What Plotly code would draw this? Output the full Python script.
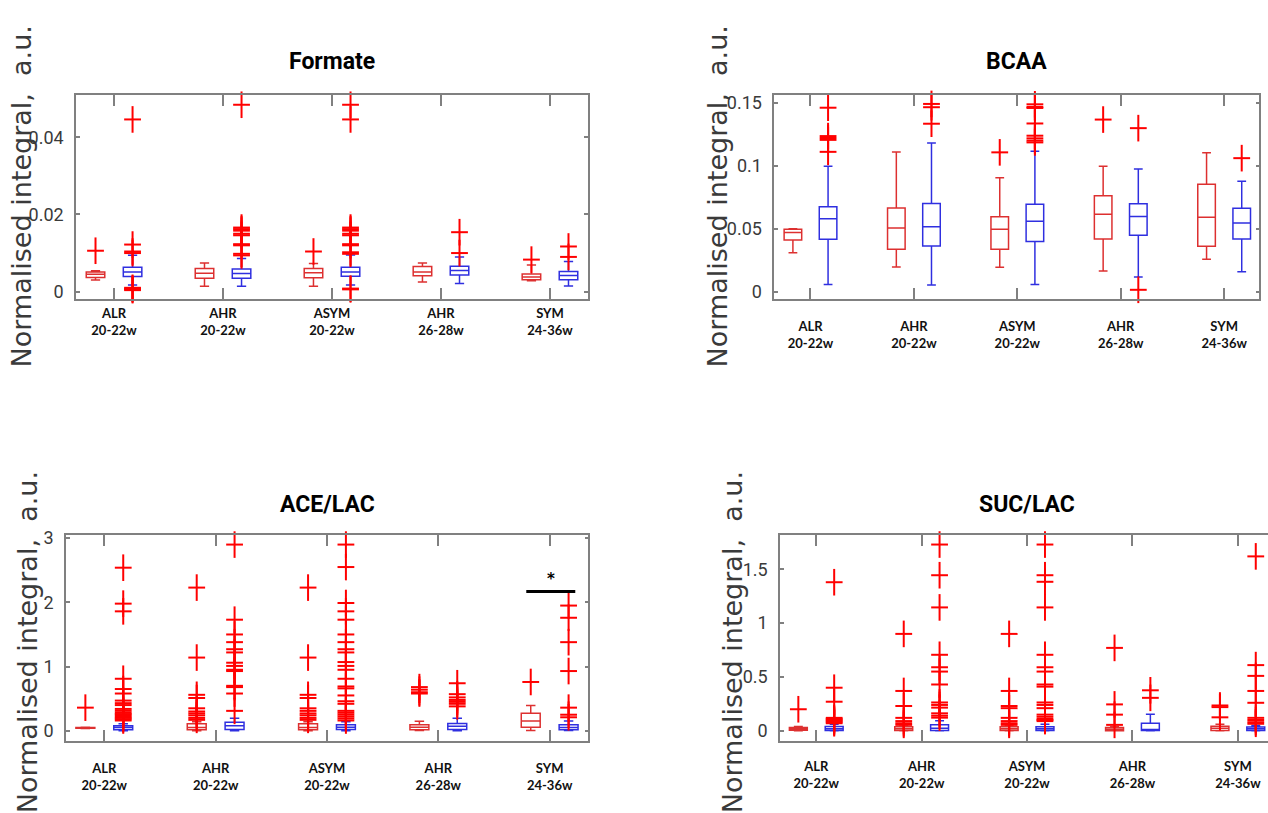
import plotly.graph_objects as go

# ---------------- data ----------------
groups = ["ALR", "AHR", "ASYM", "AHR", "SYM"]
weeks = ["20-22w", "20-22w", "20-22w", "26-28w", "24-36w"]

# each row: (lower whisker, q1, median, q3, upper whisker)
formate_red = [
    (0.0030, 0.0037, 0.0045, 0.0051, 0.0054),
    (0.0014, 0.0035, 0.0048, 0.0060, 0.0074),
    (0.0014, 0.0036, 0.0049, 0.0060, 0.0073),
    (0.0025, 0.0041, 0.0051, 0.0065, 0.0074),
    (0.0028, 0.0031, 0.0038, 0.0046, 0.0069),
]
formate_blue = [
    (0.0017, 0.0039, 0.0051, 0.0063, 0.0094),
    (0.0014, 0.0035, 0.0047, 0.0059, 0.0086),
    (0.0017, 0.0040, 0.0051, 0.0063, 0.0095),
    (0.0021, 0.0043, 0.0055, 0.0066, 0.0090),
    (0.0015, 0.0031, 0.0042, 0.0052, 0.0078),
]
formate_red_out = [[0.0106], [], [0.0104], [], [0.0083]]
formate_blue_out = [
    [0.0446, 0.0122, 0.0104, 0.0100, 0.0010, 0.0008, 0.0006, 0.0004],
    [0.0484, 0.0166, 0.0162, 0.0158, 0.0150, 0.0146, 0.0123, 0.0120, 0.0098, 0.0094],
    [0.0484, 0.0446, 0.0166, 0.0162, 0.0158, 0.0150, 0.0146, 0.0123, 0.0120,
     0.0102, 0.0098, 0.0008, 0.0006],
    [0.0154, 0.0100],
    [0.0117, 0.0090],
]

bcaa_red = [
    (0.0310, 0.0410, 0.0470, 0.0497, 0.0500),
    (0.0196, 0.0337, 0.0507, 0.0664, 0.1108),
    (0.0195, 0.0338, 0.0496, 0.0596, 0.0905),
    (0.0165, 0.0419, 0.0615, 0.0762, 0.0995),
    (0.0259, 0.0361, 0.0592, 0.0853, 0.1102),
]
bcaa_blue = [
    (0.0058, 0.0416, 0.0580, 0.0674, 0.0996),
    (0.0055, 0.0363, 0.0517, 0.0700, 0.1180),
    (0.0058, 0.0400, 0.0560, 0.0694, 0.1115),
    (0.0118, 0.0448, 0.0597, 0.0699, 0.0974),
    (0.0160, 0.0419, 0.0545, 0.0662, 0.0877),
]
bcaa_red_out = [[], [], [0.1106], [0.1366], []]
bcaa_blue_out = [
    [0.1460, 0.1235, 0.1220, 0.1205, 0.1110],
    [0.1490, 0.1464, 0.1333],
    [0.1487, 0.1466, 0.1458, 0.1335, 0.1238, 0.1217, 0.1199, 0.1185],
    [0.1298, 0.0016],
    [0.1060],
]

acelac_red = [
    (0.035, 0.040, 0.045, 0.050, 0.055),
    (0.000, 0.015, 0.050, 0.108, 0.140),
    (0.000, 0.015, 0.050, 0.108, 0.140),
    (0.005, 0.015, 0.056, 0.092, 0.148),
    (0.005, 0.056, 0.154, 0.271, 0.394),
]
acelac_blue = [
    (0.000, 0.015, 0.050, 0.077, 0.110),
    (0.000, 0.020, 0.077, 0.133, 0.195),
    (0.000, 0.020, 0.056, 0.092, 0.140),
    (0.000, 0.020, 0.072, 0.113, 0.195),
    (0.005, 0.015, 0.050, 0.092, 0.154),
]
acelac_red_out = [
    [0.36],
    [2.23, 1.14, 0.56, 0.51, 0.35, 0.30, 0.27, 0.24, 0.20, 0.17],
    [2.23, 1.14, 0.56, 0.51, 0.35, 0.31, 0.27, 0.24, 0.20, 0.17],
    [0.68, 0.64, 0.60, 0.58],
    [0.76],
]
acelac_blue_out = [
    [2.54, 1.98, 1.86, 0.81, 0.65, 0.58, 0.47, 0.43, 0.40, 0.34, 0.31, 0.28,
     0.26, 0.24, 0.22, 0.20, 0.18, 0.16],
    [2.90, 1.73, 1.50, 1.38, 1.27, 1.22, 1.06, 1.01, 0.95, 0.93, 0.70, 0.68,
     0.58, 0.31],
    [2.90, 2.55, 1.99, 1.86, 1.73, 1.50, 1.38, 1.27, 1.22, 1.07, 1.01, 0.95,
     0.81, 0.69, 0.66, 0.55, 0.46, 0.42, 0.31, 0.28, 0.25, 0.22, 0.19, 0.16],
    [0.74, 0.57, 0.52, 0.48, 0.45, 0.42, 0.38],
    [1.95, 1.76, 1.38, 0.93, 0.36, 0.25, 0.21],
]

suclac_red = [
    (0.000, 0.006, 0.018, 0.030, 0.040),
    (0.000, 0.003, 0.018, 0.037, 0.045),
    (0.000, 0.003, 0.018, 0.037, 0.045),
    (0.000, 0.000, 0.015, 0.030, 0.040),
    (0.000, 0.003, 0.024, 0.043, 0.060),
]
suclac_blue = [
    (0.000, 0.003, 0.018, 0.040, 0.060),
    (0.000, 0.003, 0.024, 0.055, 0.092),
    (0.000, 0.003, 0.018, 0.037, 0.060),
    (0.000, 0.002, 0.006, 0.070, 0.153),
    (0.000, 0.003, 0.018, 0.034, 0.050),
]
suclac_red_out = [
    [0.20],
    [0.90, 0.37, 0.23, 0.12, 0.09, 0.07, 0.055],
    [0.90, 0.37, 0.23, 0.21, 0.12, 0.09, 0.07, 0.055],
    [0.77, 0.245, 0.15, 0.055],
    [0.235, 0.22, 0.125],
]
suclac_blue_out = [
    [1.38, 0.40, 0.27, 0.12, 0.11, 0.10, 0.09, 0.08, 0.07],
    [1.73, 1.445, 1.146, 0.706, 0.59, 0.55, 0.43, 0.263, 0.24, 0.215, 0.162,
     0.14, 0.122],
    [1.73, 1.445, 1.384, 1.146, 0.706, 0.59, 0.55, 0.43, 0.41, 0.263, 0.24,
     0.21, 0.15, 0.13, 0.11, 0.10, 0.09],
    [0.376, 0.306],
    [1.62, 0.61, 0.51, 0.37, 0.26, 0.12, 0.10, 0.08, 0.065],
]

# significance bar on ACE/LAC, SYM group (x from, x to, height)
sig_bar = (3.79, 4.23, 2.17)

# ---------------- styling / layout ----------------
W, H = 1268, 813
RED_BOX = "#dd3030"
BLUE_BOX = "#2f2fe0"
OUT_RED = "#ff0000"
AX_GRAY = "#808080"
OFF = 0.17
NARROW = "Roboto, 'Liberation Sans', sans-serif"

panels = [
    dict(title="Formate", red=formate_red, blue=formate_blue,
         red_out=formate_red_out, blue_out=formate_blue_out,
         px=(76, 588), py=(88.3, 295), xr=[-0.349, 4.349], yr=[-0.0019, 0.0509],
         yt=[0, 0.02, 0.04], ytt=["0", "0.02", "0.04"], standoff=2,
         tpos=(332, 54), ylab=(21, 191), ymirror="ticks"),
    dict(title="BCAA", red=bcaa_red, blue=bcaa_blue,
         red_out=bcaa_red_out, blue_out=bcaa_blue_out,
         px=(774.3, 1259.3), py=(88.3, 295), xr=[-0.350, 4.340], yr=[-0.0057, 0.1560],
         yt=[0, 0.05, 0.1, 0.15], ytt=["0", "0.05", "0.1", "0.15"], standoff=15,
         tpos=(1016, 54), ylab=(717, 191), ymirror="ticks"),
    dict(title="ACE/LAC", red=acelac_red, blue=acelac_blue,
         red_out=acelac_red_out, blue_out=acelac_blue_out,
         px=(66, 588.3), py=(534.3, 742.7), xr=[-0.344, 4.347], yr=[-0.154, 3.048],
         yt=[0, 1, 2, 3], ytt=["0", "1", "2", "3"], standoff=15,
         tpos=(327, 503), ylab=(27, 643), ymirror="ticks"),
    dict(title="SUC/LAC", red=suclac_red, blue=suclac_blue,
         red_out=suclac_red_out, blue_out=suclac_blue_out,
         px=(780, 1268), py=(534.3, 742.7), xr=[-0.344, 4.286], yr=[-0.0917, 1.818],
         yt=[0, 0.5, 1, 1.5], ytt=["0", "0.5", "1", "1.5"], standoff=13,
         tpos=(1027, 503), ylab=(732, 643), ymirror=False),
]

fig = go.Figure()
annotations = []
shapes = []
ticktext = [f"<b>{g}</b><br><b>{w}</b>" for g, w in zip(groups, weeks)]

for i, p in enumerate(panels):
    n = "" if i == 0 else str(i + 1)
    xa, ya = "x" + n, "y" + n
    for stats, off, col in ((p["red"], -OFF, RED_BOX), (p["blue"], OFF, BLUE_BOX)):
        xs = [g + off for g in range(len(stats))]
        fig.add_trace(go.Box(
            x=xs, lowerfence=[s[0] for s in stats], q1=[s[1] for s in stats],
            median=[s[2] for s in stats], q3=[s[3] for s in stats],
            upperfence=[s[4] for s in stats], orientation="v",
            width=0.17, whiskerwidth=0.5, boxpoints=False,
            line=dict(color=col, width=1.5), fillcolor="rgba(255,255,255,0)",
            xaxis=xa, yaxis=ya, showlegend=False, hoverinfo="skip"))
    for outs, off in ((p["red_out"], -OFF), (p["blue_out"], OFF)):
        ox = [g + off for g, vals in enumerate(outs) for _ in vals]
        oy = [v for vals in outs for v in vals]
        for sym, size in (("line-ns", 19), ("line-ew", 12)):
            fig.add_trace(go.Scatter(
                x=ox, y=oy, mode="markers", xaxis=xa, yaxis=ya,
                marker=dict(symbol=sym, size=size, color=OUT_RED,
                            line=dict(color=OUT_RED, width=2)),
                showlegend=False, hoverinfo="skip", cliponaxis=False))

    x0, x1 = p["px"]
    ytop, ybot = p["py"]
    fig.layout["xaxis" + n] = dict(
        domain=[x0 / W, min(x1 / W, 1.0)], range=p["xr"], anchor=ya,
        tickmode="array", tickvals=list(range(5)), ticktext=ticktext,
        ticks="inside", ticklen=11, tickwidth=1.5, tickcolor=AX_GRAY,
        showline=True, linecolor=AX_GRAY, linewidth=1.5, mirror="ticks",
        showgrid=False, zeroline=False, ticklabelstandoff=p["standoff"],
        tickfont=dict(family="Lato, 'Open Sans', sans-serif", size=13, color="#111"))
    fig.layout["yaxis" + n] = dict(
        domain=[1 - ybot / H, 1 - ytop / H], range=p["yr"], anchor=xa,
        tickmode="array", tickvals=p["yt"], ticktext=p["ytt"],
        ticks="inside", ticklen=4, tickwidth=1.5, tickcolor=AX_GRAY,
        showline=True, linecolor=AX_GRAY, linewidth=1.5, mirror=p["ymirror"],
        showgrid=False, zeroline=False, ticklabelstandoff=7,
        tickfont=dict(family=NARROW, size=18, color="#3a3a3a"))

    tx, ty = p["tpos"]
    annotations.append(dict(
        text=f"<b>{p['title']}</b>", x=tx / W, y=1 - ty / H, xref="paper", yref="paper",
        showarrow=False, xanchor="center", yanchor="middle",
        font=dict(family=NARROW, size=23, color="#000")))
    lx, ly = p["ylab"]
    annotations.append(dict(
        text="Normalised integral,&nbsp; a.u.", x=lx / W, y=1 - ly / H,
        xref="paper", yref="paper", showarrow=False, textangle=-90,
        xanchor="center", yanchor="middle",
        font=dict(family="'DejaVu Sans', Verdana, sans-serif", size=27, color="#3a3a3a")))

# significance marker on ACE/LAC
sx0, sx1, sy = sig_bar
shapes.append(dict(type="line", xref="x3", yref="y3", x0=sx0, x1=sx1, y0=sy, y1=sy,
                   line=dict(color="#000", width=3)))
annotations.append(dict(text="<b>*</b>", x=(sx0 + sx1) / 2, y=sy, xref="x3", yref="y3",
                        showarrow=False, yanchor="bottom", yshift=1,
                        font=dict(family="DejaVu Sans", size=15, color="#000")))

fig.update_layout(
    width=W, height=H, margin=dict(l=0, r=0, t=0, b=0),
    paper_bgcolor="white", plot_bgcolor="white",
    annotations=annotations, shapes=shapes, showlegend=False,
)

fig.write_html("out.html")
